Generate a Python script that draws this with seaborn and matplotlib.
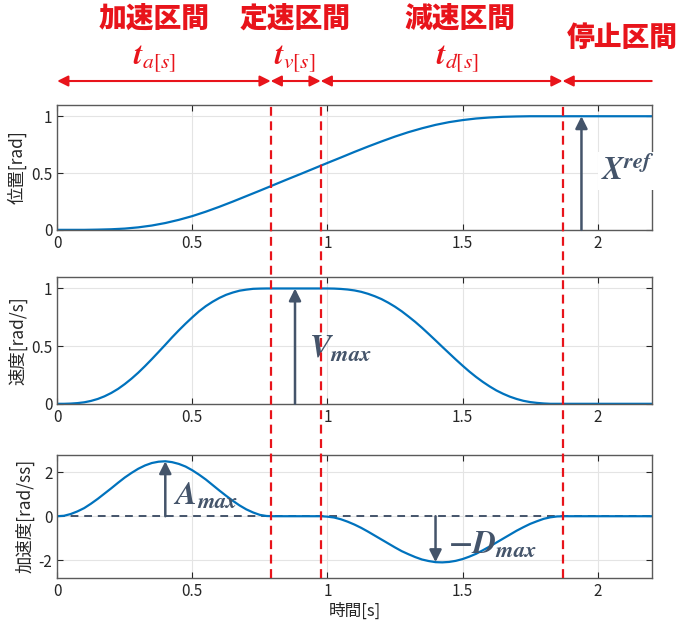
import numpy as np
import matplotlib.pyplot as plt
import matplotlib.transforms as mtransforms
from matplotlib.lines import Line2D
from matplotlib.ticker import FuncFormatter
import seaborn as sns

# sample times [s]: 0.05 s for position, 0.025 s for the rest
time_pos = np.round(np.arange(45) * 0.05, 3)
time_fine = np.round(np.arange(89) * 0.025, 3)

position = [0.000, 0.000, 0.000, 0.002, 0.005, 0.011, 0.022, 0.038, 0.060, 0.088,
            0.121, 0.160, 0.203, 0.249, 0.297, 0.345, 0.394, 0.443, 0.491, 0.540,
            0.589, 0.637, 0.686, 0.733, 0.778, 0.821, 0.860, 0.894, 0.924, 0.948,
            0.966, 0.980, 0.989, 0.995, 0.998, 1.000, 1.000, 1.000, 1.000, 1.000,
            1.000, 1.000, 1.000, 1.000, 1.000]

velocity = [0.000, 0.000, 0.002, 0.006, 0.013, 0.025, 0.042, 0.065, 0.094, 0.129,
            0.171, 0.218, 0.270, 0.327, 0.387, 0.449, 0.512, 0.576, 0.637, 0.695,
            0.750, 0.802, 0.847, 0.885, 0.918, 0.945, 0.965, 0.981, 0.990, 0.997,
            0.999, 1.000, 1.000, 1.000, 1.000, 1.000, 1.000, 1.000, 1.000, 1.000,
            1.000, 0.999, 0.996, 0.991, 0.983, 0.971, 0.954, 0.933, 0.908, 0.877,
            0.842, 0.802, 0.757, 0.710, 0.659, 0.605, 0.550, 0.494, 0.439, 0.384,
            0.331, 0.280, 0.233, 0.190, 0.151, 0.116, 0.087, 0.062, 0.042, 0.026,
            0.015, 0.008, 0.003, 0.000, 0.000, 0.000, 0.000, 0.000, 0.000, 0.000,
            0.000, 0.000, 0.000, 0.000, 0.000, 0.000, 0.000, 0.000, 0.000]

acceleration = [0.00, 0.02, 0.10, 0.22, 0.37, 0.57, 0.79, 1.03, 1.27, 1.52,
                1.76, 1.97, 2.16, 2.31, 2.42, 2.48, 2.50, 2.46, 2.38, 2.26,
                2.09, 1.89, 1.67, 1.42, 1.17, 0.93, 0.70, 0.49, 0.31, 0.17,
                0.06, 0.01, 0.00, 0.00, 0.00, 0.00, 0.00, 0.00, 0.00, 0.00,
                -0.02, -0.06, -0.14, -0.25, -0.38, -0.53, -0.70, -0.88, -1.06, -1.24,
                -1.42, -1.59, -1.73, -1.86, -1.97, -2.04, -2.09, -2.10, -2.08, -2.03,
                -1.95, -1.84, -1.71, -1.55, -1.38, -1.20, -1.02, -0.84, -0.66, -0.50,
                -0.35, -0.23, -0.12, -0.05, -0.01, 0.00, 0.00, 0.00, 0.00, 0.00,
                0.00, 0.00, 0.00, 0.00, 0.00, 0.00, 0.00, 0.00, 0.00]

# phase boundaries [s]: start, end of accel, end of const speed, end of decel, end of plot
phase_bounds = [0.0, 0.79, 0.975, 1.87, 2.2]
phase_names = ['加速区間', '定速区間', '減速区間', '停止区間']
phase_syms = [r'$\mathbfit{t}_{a[s]}$', r'$\mathbfit{t}_{v[s]}$', r'$\mathbfit{t}_{d[s]}$']

ylabels = ['位置[rad]', '速度[rad/s]', '加速度[rad/ss]']

sns.set_style('ticks')
plt.rcParams['font.family'] = ['Liberation Sans Narrow', 'Noto Sans CJK JP', 'DejaVu Sans']
plt.rcParams['mathtext.fontset'] = 'stix'

line_blue = '#0072BD'
red = '#E8141B'
gray = '#44546A'

fig = plt.figure(figsize=(6.81, 6.28), dpi=100)
left, width = 0.084, 0.873
ax1 = fig.add_axes([left, 0.634, width, 0.199])
ax2 = fig.add_axes([left, 0.357, width, 0.202])
ax3 = fig.add_axes([left, 0.080, width, 0.196])
axes = [ax1, ax2, ax3]

sns.lineplot(x=time_pos, y=position, ax=ax1, color=line_blue, linewidth=1.6)
sns.lineplot(x=time_fine, y=velocity, ax=ax2, color=line_blue, linewidth=1.6)
sns.lineplot(x=time_fine, y=acceleration, ax=ax3, color=line_blue, linewidth=1.6)

fmt = FuncFormatter(lambda v, p: '%g' % v)
for ax, lab in zip(axes, ylabels):
    ax.set_xlim(0, 2.2)
    ax.set_xticks([0, 0.5, 1, 1.5, 2])
    ax.xaxis.set_major_formatter(fmt)
    ax.yaxis.set_major_formatter(fmt)
    ax.grid(True, color='#E4E4E4', linewidth=0.8)
    ax.set_axisbelow(True)
    ax.tick_params(direction='in', top=True, right=True, length=4,
                   labelsize=11, colors='#262626')
    for sp in ax.spines.values():
        sp.set_color('#5A5A5A')
        sp.set_linewidth(1.0)
    ax.set_ylabel(lab, fontsize=12.5, family=['Noto Sans CJK JP'], labelpad=3)

ax1.set_ylim(0, 1.1)
ax1.set_yticks([0, 0.5, 1])
ax2.set_ylim(0, 1.1)
ax2.set_yticks([0, 0.5, 1])
ax3.set_ylim(-2.8, 2.8)
ax3.set_yticks([-2, 0, 2])
ax3.set_xlabel('時間[s]', fontsize=12, family=['Noto Sans CJK JP'], labelpad=2)

# zero line in acceleration plot
ax3.axhline(0, color=gray, linestyle=(0, (4, 3)), linewidth=1.4, zorder=1)

# red dashed boundaries through all panels
trans = mtransforms.blended_transform_factory(ax3.transData, fig.transFigure)
for tb in phase_bounds[1:4]:
    fig.add_artist(Line2D([tb, tb], [0.080, 0.833], transform=trans, color=red,
                          linestyle=(0, (4, 2.5)), linewidth=1.6, zorder=5))

# header arrows and labels
arrow_y = 0.871
for i in range(3):
    fig.add_artist(plt.Annotation('', xy=(phase_bounds[i + 1], arrow_y), xycoords=trans,
                                  xytext=(phase_bounds[i], arrow_y), textcoords=trans,
                                  arrowprops=dict(arrowstyle='<|-|>', color=red, lw=1.5,
                                                  mutation_scale=16, shrinkA=0, shrinkB=0)))
fig.add_artist(plt.Annotation('', xy=(phase_bounds[3], arrow_y), xycoords=trans,
                              xytext=(phase_bounds[4], arrow_y), textcoords=trans,
                              arrowprops=dict(arrowstyle='-|>', color=red, lw=1.5,
                                              mutation_scale=16, shrinkA=0, shrinkB=0)))

name_x = [0.36, 0.88, 1.49, 2.09]
name_y = [0.970, 0.970, 0.970, 0.940]
sym_x = [0.36, 0.88, 1.48]
for i, name in enumerate(phase_names):
    fig.text(name_x[i], name_y[i], name, transform=trans, ha='center', va='center',
             color=red, fontsize=20, fontweight='black', family=['Noto Sans CJK JP'])
for i in range(3):
    fig.text(sym_x[i], 0.905, phase_syms[i], transform=trans, ha='center', va='center',
             color=red, fontsize=22)

# gray annotation arrows
arr = dict(arrowstyle='-|>', color=gray, lw=1.8, mutation_scale=18, shrinkA=0, shrinkB=0)
ax1.annotate('', xy=(1.94, 1.0), xytext=(1.94, 0.0), arrowprops=arr)
ax1.text(2.11, 0.52, r'$\mathbfit{X}^{\mathbfit{ref}}$', color=gray, fontsize=23, ha='center',
         va='center', clip_on=False, zorder=6,
         bbox=dict(facecolor='white', edgecolor='none', pad=2))
ax2.annotate('', xy=(0.88, 1.0), xytext=(0.88, 0.0), arrowprops=arr)
ax2.text(1.05, 0.48, r'$\mathbfit{V}_{\mathbfit{max}}$', color=gray, fontsize=23,
         ha='center', va='center')
ax3.annotate('', xy=(0.40, 2.5), xytext=(0.40, 0.0), arrowprops=arr)
ax3.text(0.55, 0.92, r'$\mathbfit{A}_{\mathbfit{max}}$', color=gray, fontsize=23,
         ha='center', va='center')
ax3.annotate('', xy=(1.40, -2.09), xytext=(1.40, 0.0), arrowprops=arr)
ax3.text(1.61, -1.32, r'$\mathbf{-}\mathbfit{D}_{\mathbfit{max}}$', color=gray, fontsize=23,
         ha='center', va='center')

fig.savefig('out.png', dpi=100)
